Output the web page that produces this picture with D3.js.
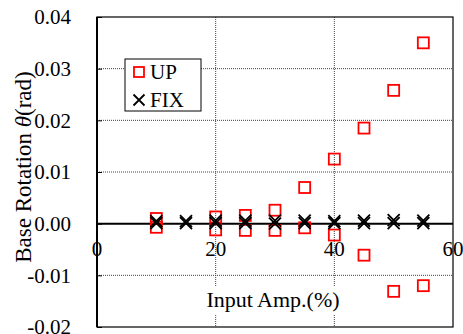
<!DOCTYPE html>
<html>
<head>
<meta charset="utf-8">
<script src="https://cdn.jsdelivr.net/npm/d3@7"></script>
<style>
  body { margin: 0; background: white; }
</style>
</head>
<body>
<div id="container"></div>
<script>
// values
let upAmp = [10, 20, 25, 30, 35, 40, 45, 50, 55];
let upMax = [0.0010, 0.0013, 0.0016, 0.0026, 0.0070, 0.0125, 0.0185, 0.0258, 0.0350];
let upMin = [-0.0007, -0.0012, -0.0013, -0.0013, -0.0008, -0.0022, -0.0061, -0.0131, -0.0120];

let fixAmp = [10, 15, 20, 25, 30, 35, 40, 45, 50, 55];
let fixMax = [0.0005, 0.0005, 0.0006, 0.0006, 0.0006, 0.0006, 0.0005, 0.0006, 0.0007, 0.0006];
let fixMin = [0.0001, 0.0001, 0.0001, 0.0001, 0.0000, 0.0001, 0.0001, 0.0001, 0.0001, 0.0001];

let xTicks = [0, 20, 40, 60];
let yTicks = [-0.02, -0.01, 0.00, 0.01, 0.02, 0.03, 0.04];

let w = 463;
let h = 334;
let pLeft = 97, pRight = 453, pTop = 17, pBottom = 327;
let serif = "'Liberation Serif', 'Times New Roman', Times, serif";

let viz = d3.select("#container")
  .append("svg")
    .attr("width", w)
    .attr("height", h)
    .attr("font-family", serif)
    .style("background-color", "white");

let xScale = d3.scaleLinear().domain([0, 60]).range([pLeft, pRight]);
let yScale = d3.scaleLinear().domain([-0.02, 0.04]).range([pBottom, pTop]);

// grid
let grid = viz.append("g").attr("class", "grid");
grid.selectAll(".hgrid").data(yTicks.filter(d => d != 0 && d > -0.02 && d < 0.04)).enter()
  .append("line")
    .attr("x1", pLeft).attr("x2", pRight)
    .attr("y1", d => yScale(d)).attr("y2", d => yScale(d))
    .attr("stroke", "#444").attr("stroke-width", 1)
    .attr("stroke-dasharray", "1,1");
grid.selectAll(".vgrid").data(xTicks.filter(d => d > 0 && d < 60)).enter()
  .append("line")
    .attr("x1", d => xScale(d)).attr("x2", d => xScale(d))
    .attr("y1", pTop).attr("y2", pBottom)
    .attr("stroke", "#444").attr("stroke-width", 1)
    .attr("stroke-dasharray", "1,1");

// y axis ticks (inside) and labels
let yAxis = d3.axisRight(yScale).tickValues(yTicks).tickSize(5).tickFormat("");
viz.append("g").attr("transform", "translate(" + pLeft + ",0)").call(yAxis)
  .call(g => g.select(".domain").remove())
  .call(g => g.selectAll("line").attr("stroke", "black"));

viz.append("g").selectAll("text").data(yTicks).enter()
  .append("text")
    .attr("x", 71)
    .attr("y", d => yScale(d))
    .attr("dy", "0.35em")
    .attr("text-anchor", "end")
    .attr("font-size", "21px")
    .attr("fill", "black")
    .text(d => d3.format(".2f")(d).replace("−", "-"));

// x tick labels below the zero line
viz.append("g").selectAll("text").data(xTicks).enter()
  .append("text")
    .attr("x", d => xScale(d))
    .attr("y", yScale(0) + 32)
    .attr("text-anchor", "middle")
    .attr("font-size", "21px")
    .attr("fill", "black")
    .text(d => d);

// x title with white background
viz.append("rect")
  .attr("x", 203).attr("y", 287).attr("width", 142).attr("height", 27)
  .attr("fill", "white");
viz.append("text")
  .attr("x", (pLeft + pRight) / 2 - 2)
  .attr("y", 307)
  .attr("text-anchor", "middle")
  .attr("font-size", "22px")
  .attr("fill", "black")
  .text("Input Amp.(%)");

// y title
let yTitle = viz.append("text")
  .attr("transform", "translate(31," + 167 + ") rotate(-90)")
  .attr("text-anchor", "middle")
  .attr("font-size", "23px")
  .attr("fill", "black");
yTitle.append("tspan").text("Base Rotation ");
yTitle.append("tspan").attr("font-style", "italic").text("θ");
yTitle.append("tspan").text("(rad)");

// zero line
viz.append("line")
  .attr("x1", pLeft).attr("x2", pRight)
  .attr("y1", yScale(0)).attr("y2", yScale(0))
  .attr("stroke", "black").attr("stroke-width", 2);

// frame
viz.append("rect")
  .attr("x", pLeft).attr("y", pTop)
  .attr("width", pRight - pLeft).attr("height", pBottom - pTop)
  .attr("fill", "none").attr("stroke", "black").attr("stroke-width", 1.2);
viz.append("line")
  .attr("x1", pLeft).attr("x2", pLeft).attr("y1", pTop).attr("y2", pBottom)
  .attr("stroke", "black").attr("stroke-width", 2);

// markers
let sq = 11;
let upPoints = [];
upAmp.forEach(function(a, i){
  upPoints.push({x: a, y: upMax[i]});
  upPoints.push({x: a, y: upMin[i]});
});
let fixPoints = [];
fixAmp.forEach(function(a, i){
  fixPoints.push({x: a, y: fixMax[i]});
  fixPoints.push({x: a, y: fixMin[i]});
});

viz.append("g").selectAll("rect").data(upPoints).enter()
  .append("rect")
    .attr("x", d => xScale(d.x) - sq / 2)
    .attr("y", d => yScale(d.y) - sq / 2)
    .attr("width", sq).attr("height", sq)
    .attr("fill", "none").attr("stroke", "red").attr("stroke-width", 1.8);

function crossPath(cx, cy, r){
  return "M" + (cx - r) + "," + (cy - r) + "L" + (cx + r) + "," + (cy + r) +
         "M" + (cx - r) + "," + (cy + r) + "L" + (cx + r) + "," + (cy - r);
}
viz.append("g").selectAll("path").data(fixPoints).enter()
  .append("path")
    .attr("d", d => crossPath(xScale(d.x), yScale(d.y), 6))
    .attr("stroke", "black").attr("stroke-width", 1.8).attr("fill", "none");

// legend
let legend = viz.append("g").attr("class", "legend");
legend.append("rect")
  .attr("x", 125).attr("y", 59).attr("width", 76).attr("height", 52)
  .attr("fill", "white").attr("stroke", "black").attr("stroke-width", 1);
legend.append("rect")
  .attr("x", 139 - 5).attr("y", 72 - 5).attr("width", 10).attr("height", 10)
  .attr("fill", "none").attr("stroke", "red").attr("stroke-width", 1.8);
legend.append("text")
  .attr("x", 150).attr("y", 79)
  .attr("font-size", "21px").attr("fill", "black").text("UP");
legend.append("path")
  .attr("d", crossPath(139, 100, 5.5))
  .attr("stroke", "black").attr("stroke-width", 1.8).attr("fill", "none");
legend.append("text")
  .attr("x", 150).attr("y", 107)
  .attr("font-size", "21px").attr("fill", "black").text("FIX");
</script>
</body>
</html>
